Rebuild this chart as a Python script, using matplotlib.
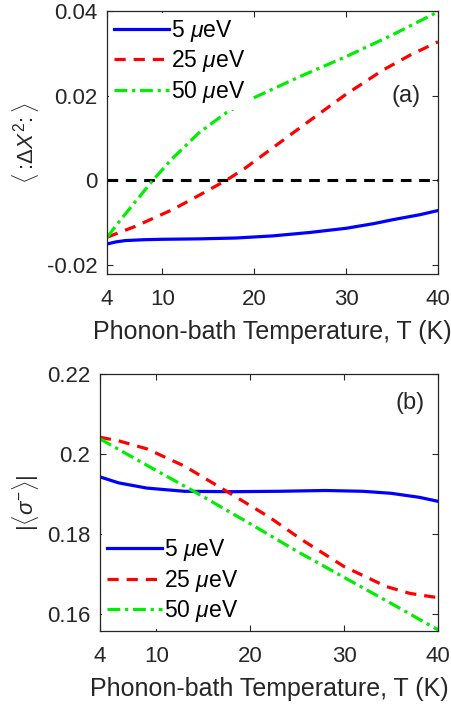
import matplotlib
matplotlib.use('Agg')
import matplotlib.pyplot as plt

plt.rcParams['font.family'] = ['Liberation Sans', 'DejaVu Sans']
plt.rcParams['mathtext.fontset'] = 'custom'
plt.rcParams['mathtext.rm'] = 'Liberation Sans'
plt.rcParams['mathtext.it'] = 'Liberation Sans:italic'

labels = ['5 $\\mu$eV', '25 $\\mu$eV', '50 $\\mu$eV']

# panel (a): <:dX^2:>
Ta_blue = [4, 5, 6, 8, 10, 14, 18, 22, 26, 30, 33, 35, 38, 40]
a_blue = [-0.0151, -0.0146, -0.0143, -0.0141, -0.0140, -0.0139, -0.0137, -0.0132, -0.0124,
          -0.0114, -0.0103, -0.0094, -0.0082, -0.0072]
Ta_red = [4, 7, 11, 13, 15, 17, 19, 22, 25.5, 30, 34, 37, 40]
a_red = [-0.0135, -0.0110, -0.0071, -0.0048, -0.0024, 0.0, 0.0028, 0.0076, 0.0132, 0.0203,
         0.0260, 0.0296, 0.0327]
Ta_green = [4, 5.5, 7, 9, 11, 14, 17, 20, 25, 30, 35, 40]
a_green = [-0.0135, -0.0093, -0.0053, 0.0, 0.0049, 0.0112, 0.0160, 0.0195, 0.0245, 0.0292,
           0.0343, 0.0398]

# panel (b): |<sigma^->|
Tb_blue = [4, 6, 9, 13, 18, 23, 28, 32, 35, 38, 40]
b_blue = [0.1943, 0.1928, 0.1915, 0.1907, 0.1906, 0.1907, 0.1909, 0.1907, 0.1902, 0.1892, 0.1882]
Tb_red = [4, 6, 9, 13, 17.5, 22, 25.5, 30, 34.5, 37, 39.5, 40]
b_red = [0.2042, 0.2033, 0.2013, 0.1970, 0.1907, 0.1843, 0.1786, 0.1719, 0.1669, 0.1652,
         0.1643, 0.1642]
Tb_green = [4, 9, 14, 20, 25, 30, 35, 40]
b_green = [0.2038, 0.1972, 0.1907, 0.1826, 0.1757, 0.1692, 0.1627, 0.1561]

xticks = [4, 10, 20, 30, 40]

fig = plt.figure(figsize=(4.52, 7.07), dpi=100)
ax1 = fig.add_axes([0.237, 0.6125, 0.732, 0.372])
ax2 = fig.add_axes([0.221, 0.1075, 0.748, 0.3635])

styles = [dict(color='#0000ff', ls='-'),
          dict(color='#ff0000', ls=(0, (3.5, 2.5))),
          dict(color='#00ee00', ls=(0, (4, 1.5, 1, 1.5)))]

ax1.plot([4, 40], [0, 0], color='k', lw=2.2, ls=(0, (3.5, 2.5)))
for (x, y), st, lab in zip([(Ta_blue, a_blue), (Ta_red, a_red), (Ta_green, a_green)], styles, labels):
    ax1.plot(x, y, lw=2.3, label=lab, **st)
for (x, y), st, lab in zip([(Tb_blue, b_blue), (Tb_red, b_red), (Tb_green, b_green)], styles, labels):
    ax2.plot(x, y, lw=2.3, label=lab, **st)

ax1.set_ylim(-0.0222, 0.04)
ax1.set_yticks([-0.02, 0, 0.02, 0.04])
ax1.set_yticklabels(['-0.02', '0', '0.02', '0.04'])
ax2.set_ylim(0.1558, 0.22)
ax2.set_yticks([0.16, 0.18, 0.2, 0.22])
ax2.set_yticklabels(['0.16', '0.18', '0.2', '0.22'])

for ax in (ax1, ax2):
    ax.set_xlim(4, 40)
    ax.set_xticks(xticks)
    ax.tick_params(direction='in', top=True, right=True, labelsize=16,
                   colors='#262626', length=4, pad=7)
    ax.tick_params(axis='x', pad=11)
    for s in ax.spines.values():
        s.set_color('#262626')
        s.set_linewidth(0.9)
    ax.set_xlabel('Phonon-bath Temperature, T (K)', fontsize=18, color='#262626', labelpad=7)

ax1.set_ylabel(r'$\langle:\!\Delta X^2\!:\rangle$', fontsize=16, color='#262626', labelpad=4)
ax2.set_ylabel(r'$|\langle\sigma^{-}\rangle|$', fontsize=16, color='#262626', labelpad=4)

ax1.text(36.5, 0.02, '(a)', fontsize=17, ha='center', va='center', color='#262626')
ax2.text(37.0, 0.2127, '(b)', fontsize=17, ha='center', va='center', color='#262626')

# matlab-style legend: white box, no border
for ax, loc, anchor in ((ax1, 'upper left', (0.0, 1.0)), (ax2, 'lower left', (0.0, 0.0))):
    leg = ax.legend(loc=loc, frameon=True, fontsize=16.5, handlelength=2.4,
                    handletextpad=0.1, labelspacing=0.2, borderaxespad=0.1,
                    borderpad=0.2, bbox_to_anchor=anchor, fancybox=False)
    leg.get_frame().set_facecolor('white')
    leg.get_frame().set_edgecolor('none')
    leg.get_frame().set_alpha(1.0)

fig.savefig('out.png', dpi=100)
